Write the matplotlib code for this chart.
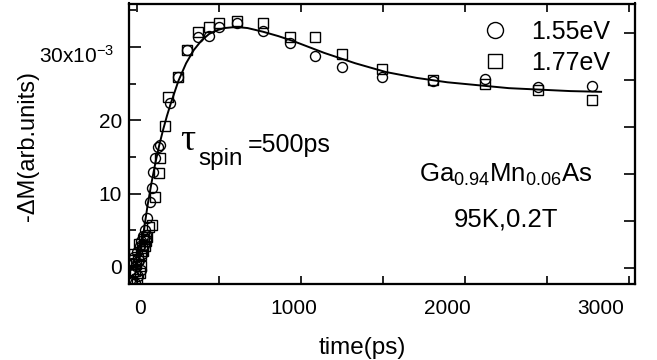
import matplotlib
matplotlib.use("Agg")
import matplotlib.pyplot as plt
from matplotlib.ticker import FixedLocator, FixedFormatter, NullFormatter
from matplotlib.transforms import ScaledTranslation

plt.rcParams['font.family'] = ['Liberation Sans', 'DejaVu Sans']
plt.rcParams['mathtext.fontset'] = 'custom'
plt.rcParams['mathtext.rm'] = 'Liberation Sans'
plt.rcParams['mathtext.it'] = 'Liberation Sans:italic'
plt.rcParams['mathtext.bf'] = 'Liberation Sans:bold'
plt.rcParams['mathtext.default'] = 'regular'

# -dM signal in units of 1e-3 (arb. units), time in ps
# 1.55 eV probe
t_155 = [-62, -54, -47, -40, -33, -26, -20, -14, -8, -2, 4, 9, 14, 20, 26, 32, 38,
         44, 65, 78, 85, 98, 117, 130, 195, 247, 306, 377, 449, 514, 631, 800,
         976, 1139, 1314, 1575, 1906, 2245, 2590, 2941]
m_155 = [-1.8, 0.6, -0.9, 1.4, -2.2, 0.2, 2.1, -1.2, 0.9, 2.8, -0.4, 3.5, 1.8, 4.2, 3.0, 5.0, 4.4,
         6.7, 8.8, 10.8, 13.0, 14.9, 16.4, 16.6, 22.4, 25.9, 29.6, 31.4, 31.5, 32.7, 33.3, 32.2,
         30.6, 28.8, 27.3, 25.9, 25.4, 25.6, 24.5, 24.7]

# 1.77 eV probe
t_177 = [-58, -50, -42, -35, -28, -20, -14, -8, -2, 4, 9, 14, 20, 26, 32, 38,
         46, 60, 78, 98, 125, 133, 160, 182, 247, 306, 377, 449, 514, 631, 800,
         976, 1139, 1314, 1575, 1906, 2245, 2590, 2941]
m_177 = [0.9, -2.0, 1.8, -0.5, 0.4, -1.6, 1.1, 3.2, -0.8, 1.6, 0.2, 2.6, 2.2, 3.8, 2.9, 3.6,
         4.1, 5.5, 5.7, 9.6, 12.8, 14.9, 19.3, 23.2, 25.9, 29.6, 32.1, 32.7, 33.3, 33.6, 33.3,
         31.4, 31.4, 29.1, 27.0, 25.5, 24.9, 24.1, 22.8]

# fitted curve (tau_spin = 500 ps)
t_fit = [-70, -25, 0, 25, 50, 75, 100, 125, 150, 175, 200, 250, 300, 350, 400, 450,
         500, 550, 600, 650, 700, 800, 900, 1000, 1100, 1200, 1300, 1400, 1500, 1600,
         1800, 2000, 2200, 2400, 2600, 2800, 3000]
m_fit = [0.0, 0.0, 1.5, 5.0, 8.5, 11.5, 14.2, 16.6, 18.7, 20.6, 22.3, 25.4, 27.8, 29.6,
         30.9, 31.8, 32.3, 32.6, 32.7, 32.7, 32.6, 32.1, 31.5, 30.8, 30.0, 29.2, 28.5,
         27.8, 27.2, 26.6, 25.8, 25.2, 24.8, 24.4, 24.2, 24.0, 23.9]

xticks = [0, 1000, 2000, 3000]
xticklabels = ['0', '1000', '2000', '3000']
yticks = [0, 10, 20, 30]
yticklabels = ['0', '10', '20', r'30x10$^{-3}$']
yminor = [5, 15, 25, 35]

fig = plt.figure(figsize=(6.57, 3.6), dpi=100)
W, H = 657.0, 360.0
x0, x1, y0, y1 = 129.0, 635.0, 3.5, 284.0
ax = fig.add_axes([x0 / W, 1 - y1 / H, (x1 - x0) / W, (y1 - y0) / H])

ax.set_xlim(-71.6, 3220.6)
ax.set_ylim(-2.32, 35.95)

ax.plot(t_fit, m_fit, '-', color='black', lw=1.4, zorder=2)
ax.plot(t_155, m_155, 'o', ms=7.2, mfc='none', mec='black', mew=1.0, label='1.55eV', zorder=3)
ax.plot(t_177, m_177, 's', ms=6.7, mfc='none', mec='black', mew=1.0, label='1.77eV', zorder=3)

for s in ax.spines.values():
    s.set_linewidth(1.5)

ax.xaxis.set_major_locator(FixedLocator(xticks))
ax.xaxis.set_major_formatter(FixedFormatter(xticklabels))
ax.yaxis.set_major_locator(FixedLocator(yticks))
ax.yaxis.set_major_formatter(FixedFormatter(yticklabels))
ax.yaxis.set_minor_locator(FixedLocator(yminor))
ax.yaxis.set_minor_formatter(NullFormatter())
ax.tick_params(axis='x', which='major', length=0, pad=11, labelsize=15)
ax.tick_params(axis='y', which='major', direction='in', length=8.5, width=1.2, pad=5, labelsize=15, right=False)
ax.tick_params(axis='y', which='minor', direction='in', length=5, width=1.2, right=False)

ax.set_xlabel('time(ps)', fontsize=17.5)
ax.xaxis.set_label_coords((362 - x0) / (x1 - x0), (y1 - 337) / (y1 - y0))
ax.set_ylabel('-ΔM(arb.units)', fontsize=17)
ax.yaxis.set_label_coords((39 - x0) / (x1 - x0), (y1 - 146) / (y1 - y0))

# independent tick frame on top/bottom and right
ax_t = ax.twiny()
ax_t.set_xlim(-8 / 82, 498 / 82)
ax_t.xaxis.set_major_locator(FixedLocator(range(7)))
ax_t.tick_params(axis='x', which='major', top=True, bottom=True, labeltop=False,
                 labelbottom=False, direction='in', length=6, width=1.2)
ax_r = ax.twinx()
ax_r.set_ylim(-16 / 47, 280.5 / 47 - 16 / 47)
ax_r.yaxis.set_major_locator(FixedLocator(range(6)))
ax_r.tick_params(axis='y', which='major', right=True, left=False, labelright=False,
                 direction='in', length=8, width=1.2)
for a in (ax_t, ax_r):
    for s in a.spines.values():
        s.set_linewidth(1.5)

def axfrac(px, py):
    return (px - x0) / (x1 - x0), (y1 - py) / (y1 - y0)

ax.legend(loc='upper right', bbox_to_anchor=axfrac(610, 20), frameon=False, fontsize=18,
          markerscale=1.6, handlelength=1.0, handletextpad=0.95, labelspacing=0.27,
          borderpad=0, borderaxespad=0)

ax.text(*axfrac(180, 150), 'τ', transform=ax.transAxes, fontsize=27,
        family=['Liberation Serif', 'DejaVu Serif'], ha='left', va='baseline')
ax.text(*axfrac(198, 165), 'spin', transform=ax.transAxes, fontsize=17.5, ha='left', va='baseline')
ax.text(*axfrac(248, 152), '=500ps', transform=ax.transAxes, fontsize=18, ha='left', va='baseline')

ax.text(*axfrac(506, 182), r'Ga$_{0.94}$Mn$_{0.06}$As', transform=ax.transAxes, fontsize=18.5,
        ha='center', va='baseline')
ax.text(*axfrac(506, 226), '95K,0.2T', transform=ax.transAxes, fontsize=18.5,
        ha='center', va='baseline')

# the exponent label sits a little below and left of its tick
fig.canvas.draw()
lab = ax.yaxis.get_major_ticks()[3].label1
lab.set_transform(lab.get_transform() + ScaledTranslation(-8 / 100, -7 / 100, fig.dpi_scale_trans))

fig.savefig('out.png', dpi=100)
